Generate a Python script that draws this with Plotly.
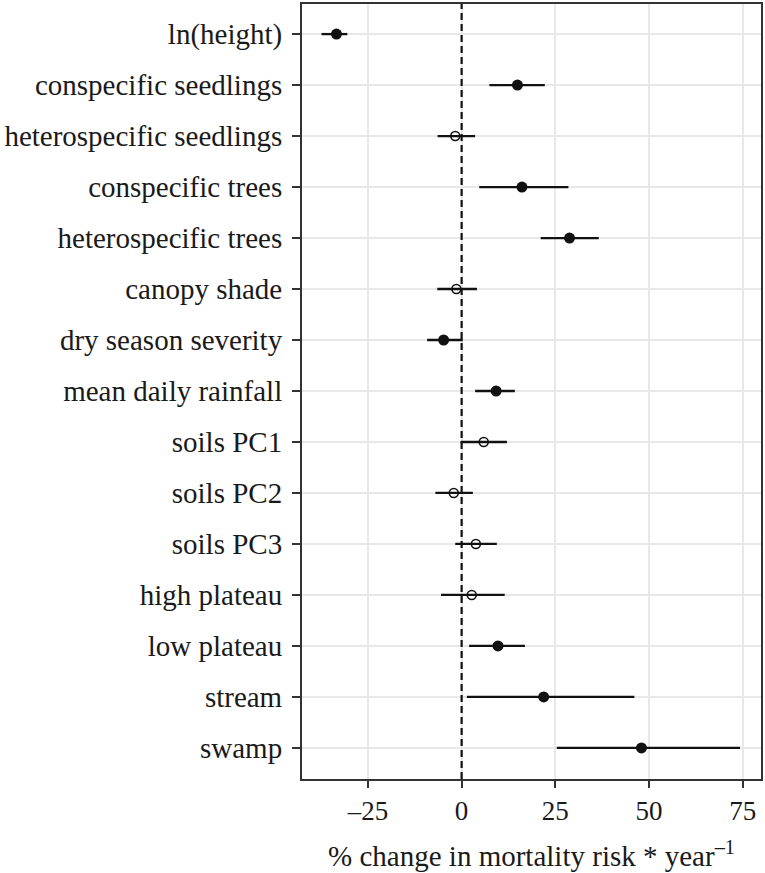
import plotly.graph_objects as go

categories = ["ln(height)", "conspecific seedlings", "heterospecific seedlings",
              "conspecific trees", "heterospecific trees", "canopy shade",
              "dry season severity", "mean daily rainfall", "soils PC1",
              "soils PC2", "soils PC3", "high plateau", "low plateau",
              "stream", "swamp"]
estimate = [-33.4, 14.9, -1.7, 16.1, 28.8, -1.4, -4.8, 9.2, 5.9, -2.1, 3.8, 2.7, 9.7, 21.9, 48.0]
lower = [-37.4, 7.4, -6.4, 4.7, 21.1, -6.5, -9.2, 3.6, -0.3, -7.0, -1.7, -5.5, 2.0, 1.4, 25.4]
upper = [-30.5, 22.2, 3.6, 28.5, 36.6, 4.1, 0.3, 14.2, 12.1, 3.0, 9.4, 11.5, 16.9, 46.1, 74.3]
significant = [True, True, False, True, True, False, True, True, False, False, False, False, True, True, True]
xtick_vals = [-25, 0, 25, 50, 75]
xtick_text = ["\u201325", "0", "25", "50", "75"]

FONT = "Liberation Serif"

fig = go.Figure()

for sig in (True, False):
    idx = [i for i, s in enumerate(significant) if s == sig]
    fig.add_trace(go.Scatter(
        x=[estimate[i] for i in idx],
        y=[categories[i] for i in idx],
        mode="markers",
        marker=dict(
            symbol="circle" if sig else "circle-open",
            size=11 if sig else 9,
            color="#111111",
            line=dict(width=1.6 if not sig else 0, color="#111111"),
        ),
        error_x=dict(
            type="data", symmetric=False,
            array=[upper[i] - estimate[i] for i in idx],
            arrayminus=[estimate[i] - lower[i] for i in idx],
            width=0, thickness=2.3, color="#111111",
        ),
        showlegend=False,
        hoverinfo="x+y",
    ))

fig.add_vline(x=0, line=dict(color="#111111", width=2.2, dash="7px,4px"))

fig.update_layout(
    width=765, height=873,
    margin=dict(l=302, r=4, t=2, b=94),
    paper_bgcolor="white", plot_bgcolor="white",
    font=dict(family=FONT, color="#1a1a1a"),
)

fig.update_xaxes(
    range=[-42.6, 79.9],
    tickvals=xtick_vals, ticktext=xtick_text,
    tickfont=dict(size=27, family=FONT, color="#1a1a1a"),
    ticks="outside", ticklen=7, tickwidth=1.5, tickcolor="#333333",
    showgrid=True, gridcolor="#e8e8e8", gridwidth=1.5,
    zeroline=False,
    showline=True, linecolor="#333333", linewidth=2, mirror=True,
    title=dict(text="% change in mortality risk * year<sup>\u20131</sup>",
               font=dict(size=29, family=FONT, color="#1a1a1a"), standoff=20),
)

fig.update_yaxes(
    type="category", categoryorder="array", categoryarray=categories,
    range=[len(categories) - 1 + 0.61, -0.59],
    tickfont=dict(size=29, family=FONT, color="#1a1a1a"),
    ticks="outside", ticklen=8, tickwidth=1.5, tickcolor="#333333",
    ticklabelstandoff=4,
    showgrid=True, gridcolor="#e8e8e8", gridwidth=1.5,
    zeroline=False,
    showline=True, linecolor="#333333", linewidth=2, mirror=True,
)

fig.write_html("out.html", config={"displayModeBar": False},
               post_script="document.body.style.margin='0';")
